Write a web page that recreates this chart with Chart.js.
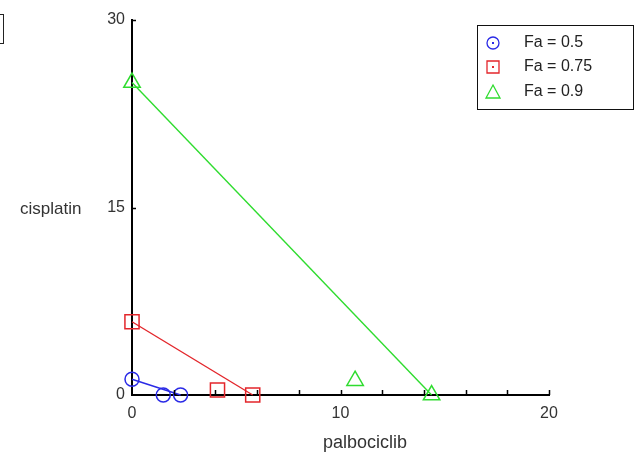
<!DOCTYPE html>
<html lang="en">
  <head>
    <meta charset="UTF-8" />
    <title>Isobologram</title>
    <script src="https://cdn.jsdelivr.net/npm/chart.js@4"></script>
    <style>
      body { margin: 0; background: #fff; }
      #wrap { width: 636px; height: 456px; }
    </style>
  </head>
  <body>
    <div id="wrap"><canvas id="myChart" width="636" height="456"></canvas></div>

    <script>
      // values
      const fractions = ["Fa = 0.5", "Fa = 0.75", "Fa = 0.9"];
      const cisplatinAlone = [1.26, 5.86, 25.0];
      const palbociclibAlone = [2.33, 5.79, 14.37];
      const comboPalbociclib = [1.5, 4.1, 10.7];
      const comboCisplatin = [0, 0.4, 1.15];
      const xTicks = [0, 10, 20];
      const yTicks = [0, 15, 30];

      const colors = ["#2a2ae6", "#e3262b", "#2fdc2f"];
      const styles = ["circle", "rect", "triangle"];
      const radii = [7, 10, 9.5];
      const FONT = "'Liberation Sans', Arial, sans-serif";

      let datasets = [];
      fractions.forEach((f, i) => {
        // isobole line between the two single-drug doses
        datasets.push({
          label: f + " line",
          data: [
            { x: 0, y: cisplatinAlone[i] },
            { x: palbociclibAlone[i], y: 0 },
          ],
          showLine: true,
          borderColor: colors[i],
          borderWidth: 1.4,
          pointRadius: 0,
          clip: false,
        });
        // markers: single doses and the combination
        datasets.push({
          label: f,
          data: [
            { x: 0, y: cisplatinAlone[i] },
            { x: comboPalbociclib[i], y: comboCisplatin[i] },
            { x: palbociclibAlone[i], y: 0 },
          ],
          showLine: false,
          pointStyle: styles[i],
          pointRadius: radii[i],
          pointHoverRadius: radii[i],
          pointBorderWidth: 1.5,
          pointBorderColor: colors[i],
          pointBackgroundColor: "rgba(0,0,0,0)",
          clip: false,
        });
      });

      function legendSymbol(ctx, i, x, y) {
        ctx.beginPath();
        if (i === 0) {
          ctx.arc(x, y, 6, 0, Math.PI * 2);
        } else if (i === 1) {
          ctx.rect(x - 6, y - 6, 12, 12);
        } else {
          ctx.moveTo(x, y - 7);
          ctx.lineTo(x + 7, y + 6);
          ctx.lineTo(x - 7, y + 6);
          ctx.closePath();
        }
        ctx.stroke();
        if (i < 2) ctx.fillRect(x - 1, y - 1, 2, 2);
      }

      const extras = {
        id: "extras",
        afterDraw(chart) {
          const ctx = chart.ctx;
          const xs = chart.scales.x;
          const ys = chart.scales.y;
          ctx.save();

          // inward ticks
          ctx.strokeStyle = "#000";
          ctx.lineWidth = 1.5;
          ctx.beginPath();
          for (let v = 2; v <= 20; v += 2) {
            let px = Math.round(xs.getPixelForValue(v)) + 0.5;
            ctx.moveTo(px, ys.bottom);
            ctx.lineTo(px, ys.bottom - 5);
          }
          yTicks.forEach((v) => {
            if (v === 0) return;
            let py = Math.round(ys.getPixelForValue(v)) + 0.5;
            ctx.moveTo(xs.left, py);
            ctx.lineTo(xs.left + 4, py);
          });
          ctx.stroke();

          // axis titles
          ctx.fillStyle = "#333";
          ctx.font = "17px " + FONT;
          ctx.textAlign = "left";
          ctx.textBaseline = "middle";
          ctx.fillText("cisplatin", 20, 209);
          ctx.font = "18px " + FONT;
          ctx.textAlign = "center";
          ctx.fillText("palbociclib", 365, 443);

          // clipped box at top left
          ctx.lineWidth = 1;
          ctx.strokeStyle = "#222";
          ctx.strokeRect(-10, 14.5, 13.5, 29);

          // legend
          ctx.strokeStyle = "#111";
          ctx.strokeRect(477.5, 25.5, 156, 84);
          const rowY = [43, 67, 92];
          fractions.forEach((f, i) => {
            ctx.strokeStyle = colors[i];
            ctx.fillStyle = colors[i];
            ctx.lineWidth = 1.3;
            legendSymbol(ctx, i, 493, rowY[i]);
            ctx.fillStyle = "#222";
            ctx.font = "16px " + FONT;
            ctx.textAlign = "left";
            ctx.textBaseline = "middle";
            ctx.fillText(f, 524, rowY[i]);
          });
          ctx.restore();
        },
      };

      new Chart(document.getElementById("myChart"), {
        type: "scatter",
        data: { datasets },
        options: {
          responsive: false,
          animation: false,
          layout: { padding: { left: 0, top: 20, right: 87, bottom: 0 } },
          plugins: { legend: { display: false }, tooltip: { enabled: false } },
          scales: {
            x: {
              type: "linear",
              min: 0,
              max: 20,
              afterBuildTicks: (s) => { s.ticks = xTicks.map((v) => ({ value: v })); },
              afterFit: (s) => { s.height = 61; },
              ticks: {
                color: "#333",
                font: { size: 16, family: FONT },
                padding: 9,
                maxRotation: 0,
              },
              grid: { display: false, drawTicks: false },
              border: { display: true, color: "#000", width: 2 },
            },
            y: {
              type: "linear",
              min: 0,
              max: 30,
              afterBuildTicks: (s) => { s.ticks = yTicks.map((v) => ({ value: v })); },
              afterFit: (s) => { s.width = 132; },
              ticks: {
                color: "#333",
                font: { size: 16, family: FONT },
                padding: 7,
              },
              grid: { display: false, drawTicks: false },
              border: { display: true, color: "#000", width: 2 },
            },
          },
        },
        plugins: [extras],
      });
    </script>
  </body>
</html>
